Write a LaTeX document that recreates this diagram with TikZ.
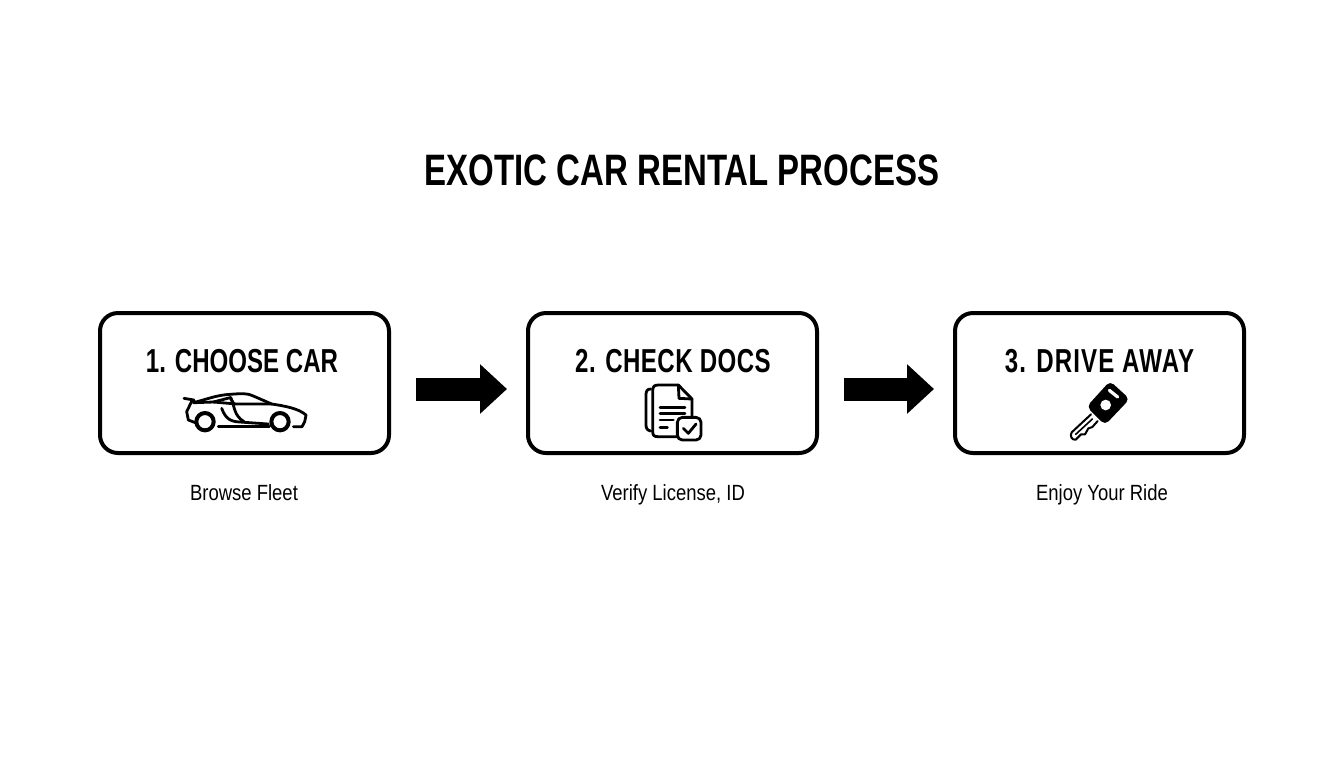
\documentclass[tikz,border=0pt]{standalone}
\usepackage{fontspec}
\usetikzlibrary{arrows.meta}
\setmainfont{Liberation Sans}
\newfontfamily\headfont[FakeStretch = 0.75]{Liberation Sans}
\newfontfamily\titlefont[FakeStretch = 0.725]{Liberation Sans}
\newfontfamily\notefont[FakeStretch = 0.84]{Liberation Sans}
\begin{document}
\begin{tikzpicture}[x = 0.5pt, y = -0.5pt,
        stepbox/.style = {draw, line width = 2pt, rounded corners = 9pt, minimum width = 144.5pt, minimum height = 70pt, inner sep = 0pt, outer sep = 0pt},
        steptitle/.style = {font = \titlefont\bfseries\fontsize{16.6}{20}\selectfont\addfontfeature{LetterSpace = #1}, inner sep = 0pt, anchor = base},
        stepnote/.style = {font = \notefont\fontsize{11}{13}\selectfont, inner sep = 0pt, anchor = base},
        flow/.style = {line width = 11.5pt, -{Triangle[length = 13.5pt, width = 24pt]}, shorten < = 13.5pt, shorten > = 10.5pt},
        icon/.style = {line width = 1.4pt, line cap = round, line join = round},
        zoomed/.style = {shift = {#1}, x = 0.1667pt, y = -0.1667pt}]
    \useasboundingbox (0, 0) rectangle (1344, 768);
    \fill[white] (0, 0) rectangle (1344, 768);

    \node[font = \headfont\bfseries\fontsize{22}{26}\selectfont, inner sep = 0pt, anchor = base] (heading) at (682, 185) {EXOTIC CAR RENTAL PROCESS};

    \node[stepbox] (choose) at (244.5, 383) {};
    \node[stepbox] (check) at (672.5, 383) {};
    \node[stepbox] (drive) at (1099.5, 383) {};

    \node[steptitle = 0] (choosetitle) at (242, 372) {1. CHOOSE CAR};
    \node[steptitle = 1.4] (checktitle) at (673, 372) {2. CHECK DOCS};
    \node[steptitle = 3.3] (drivetitle) at (1099.5, 372) {3. DRIVE AWAY};

    \node[stepnote] (choosenote) at (244, 500) {Browse Fleet};
    \node[stepnote] (checknote) at (673, 500) {Verify License, ID};
    \node[stepnote] (drivenote) at (1102, 500) {Enjoy Your Ride};

    \draw[flow] ([yshift = -3pt]choose.east) -- ([yshift = -3pt]check.west);
    \draw[flow] ([yshift = -3pt]check.east) -- ([yshift = -3pt]drive.west);

    % car
    \begin{scope}[zoomed = {(170, 380)}, icon]
        \draw (42, 55) -- (72, 60) (70, 68) .. controls (110, 58) and (140, 45) .. (180, 43) .. controls (215, 40) and (235, 40) .. (250, 48) -- (305, 72) .. controls (345, 78) and (385, 85) .. (408, 105) -- (404, 125) -- (396, 140) -- (370, 140);
        \draw (66, 62) -- (50, 95) -- (55, 120) -- (76, 128);
        \draw (130, 66) -- (180, 53) -- (192, 72);
        \draw (72, 68) -- (130, 66) -- (200, 72) -- (305, 72);
        \draw (182, 52) .. controls (195, 80) and (190, 105) .. (222, 125);
        \draw (155, 85) .. controls (165, 110) and (175, 125) .. (210, 126) -- (295, 132);
        \draw (145, 140) -- (298, 140);
        \draw[line width = 2pt] (105, 125) circle (26) (330, 125) circle (26);
    \end{scope}

    % document
    \begin{scope}[zoomed = {(630, 375)}, icon]
        \draw (145, 30) -- (85, 30) .. controls (72, 30) and (68, 35) .. (68, 48) -- (68, 168) .. controls (68, 182) and (72, 185) .. (85, 185) -- (142, 185);
        \draw (145, 30) -- (186, 72) -- (186, 125);
        \draw (145, 30) -- (147, 70) -- (186, 72);
        \draw (62, 42) .. controls (52, 42) and (48, 48) .. (48, 58) -- (48, 150) .. controls (48, 160) and (52, 166) .. (62, 168);
        \draw (90, 97) -- (165, 97) (90, 115) -- (165, 115) (90, 135) -- (130, 135) (90, 157) -- (112, 157);
        \draw[rounded corners = 2.5pt, fill = white] (142, 127) rectangle (213, 195);
        \draw (160, 160) -- (175, 175) -- (198, 147);
    \end{scope}

    % key
    \begin{scope}[zoomed = {(1055, 375)}, icon]
        \fill[rounded corners = 2.5pt] (165, 18) -- (224, 72) -- (150, 150) -- (95, 95) -- cycle;
        \fill[white] (152, 90) circle (16);
        \draw[white, line width = 1.6pt] (163, 46) -- (188, 66);
        \draw[line width = 1pt] (108, 118) -- (50, 172) .. controls (44, 182) and (50, 196) .. (62, 194) -- (78, 178) -- (90, 178) -- (100, 160) -- (112, 156) -- (128, 138);
        \draw[line width = 0.8pt] (62, 178) -- (112, 132);
    \end{scope}
\end{tikzpicture}
\end{document}
